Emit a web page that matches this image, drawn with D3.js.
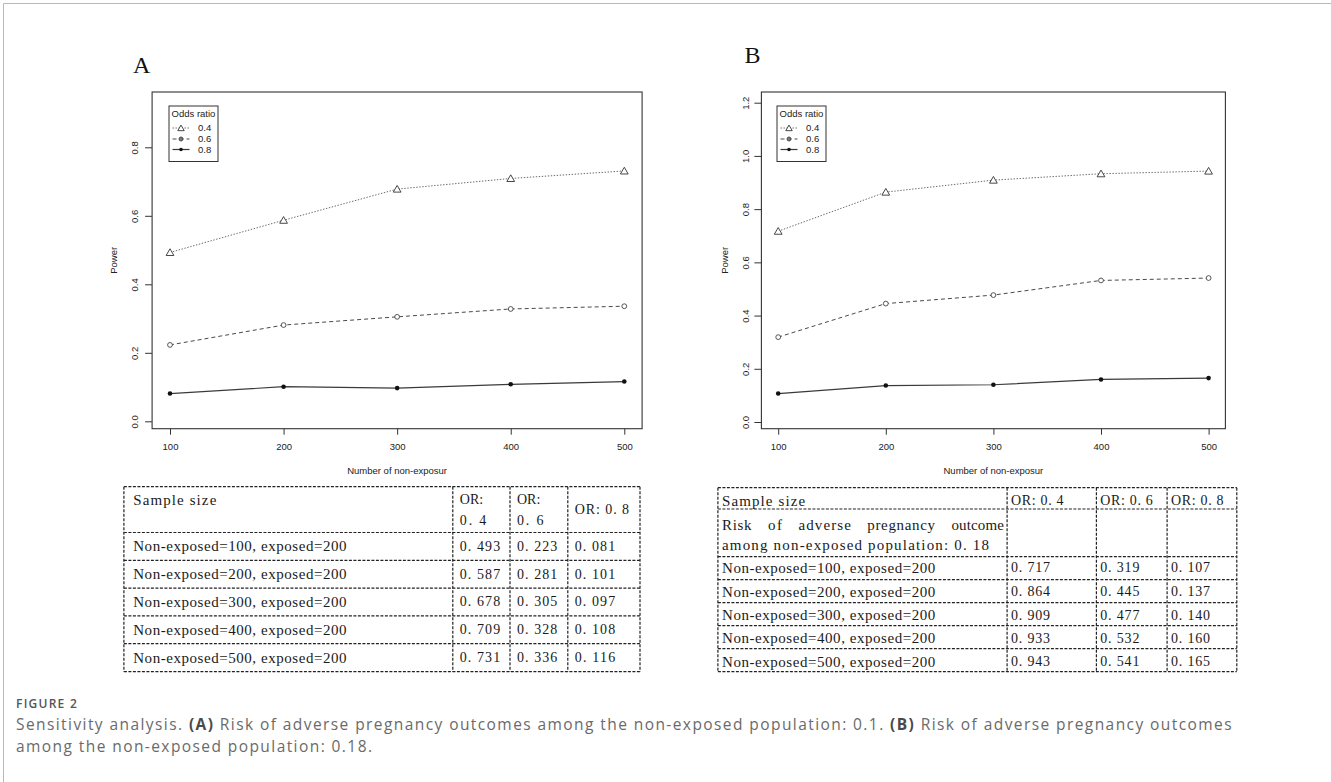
<!DOCTYPE html>
<html><head><meta charset="utf-8">
<script src="https://cdn.jsdelivr.net/npm/d3@7"></script>
<style>html,body{margin:0;padding:0;background:#fff;}svg{display:block;}</style>
</head><body>
<svg id="c" width="1331" height="782"></svg>
<script>
// ---------------- DATA ----------------
const sampleSizes = [100, 200, 300, 400, 500];
const oddsRatios = ["0.4", "0.6", "0.8"];
const powerA_OR04 = [0.493, 0.587, 0.678, 0.709, 0.731];
const powerA_OR06 = [0.223, 0.281, 0.305, 0.328, 0.336];
const powerA_OR08 = [0.081, 0.101, 0.097, 0.108, 0.116];
const powerB_OR04 = [0.717, 0.864, 0.909, 0.933, 0.943];
const powerB_OR06 = [0.319, 0.445, 0.477, 0.532, 0.541];
const powerB_OR08 = [0.107, 0.137, 0.140, 0.160, 0.165];
const xTicks = [100, 200, 300, 400, 500];
const yTicksA = [0.0, 0.2, 0.4, 0.6, 0.8];
const yTicksB = [0.0, 0.2, 0.4, 0.6, 0.8, 1.0, 1.2];
const rowLabels = ["Non-exposed=100, exposed=200", "Non-exposed=200, exposed=200",
  "Non-exposed=300, exposed=200", "Non-exposed=400, exposed=200", "Non-exposed=500, exposed=200"];
const riskLineB = ["Risk of adverse pregnancy outcome", "among non-exposed population: 0. 18"];
const captionTitle = "FIGURE 2";
const captionLine1 = [["Sensitivity analysis. ", 0], ["(A)", 1],
  [" Risk of adverse pregnancy outcomes among the non-exposed population: 0.1. ", 0], ["(B)", 1],
  [" Risk of adverse pregnancy outcomes", 0]];
const captionLine2 = "among the non-exposed population: 0.18.";

// ---------------- STYLE / LAYOUT ----------------
const svg = d3.select("#c");
const SANS = "'Liberation Sans', Arial, sans-serif";
const TFONT = "'Liberation Serif', 'Times New Roman', serif";
const seriesStyle = [
  {stroke: "#6a6a6a", dash: "1.4,1.6", width: 1, marker: "tri"},
  {stroke: "#4a4a4a", dash: "4,3", width: 1, marker: "open"},
  {stroke: "#3a3a3a", dash: null, width: 1.2, marker: "dot"}
];
const fmt = v => d3.format(".3f")(v).replace(".", ". ");

// outer page frame
svg.append("path").attr("d", "M3.5,782 V3.5 H1331").attr("fill", "none")
  .attr("stroke", "#b8b8b8").attr("stroke-width", 1);

function marker(g, type, cx, cy, small) {
  if (type === "tri") {
    g.append("path").attr("d", d3.symbol(d3.symbolTriangle, small ? 18 : 26)())
      .attr("transform", `translate(${cx},${cy + 0.8})`)
      .attr("fill", "#fff").attr("stroke", "#333").attr("stroke-width", 0.9);
  } else if (type === "open") {
    g.append("circle").attr("cx", cx).attr("cy", cy).attr("r", small ? 2 : 2.4)
      .attr("fill", small ? "#777" : "#fff").attr("stroke", "#444").attr("stroke-width", 0.9);
  } else {
    g.append("circle").attr("cx", cx).attr("cy", cy).attr("r", small ? 1.8 : 2.3).attr("fill", "#111");
  }
}

function drawPanel(cfg) {
  const g = svg.append("g");
  const x = d3.scaleLinear().domain([100, 500]).range(cfg.xr);
  const y = d3.scaleLinear().domain([0, cfg.yTicks[cfg.yTicks.length - 1]]).range(cfg.yr);
  const [bx0, by0, bx1, by1] = cfg.box;

  g.append("text").attr("x", cfg.letterPos[0]).attr("y", cfg.letterPos[1])
    .style("font-family", "'Liberation Serif', 'Times New Roman', serif").style("font-size", "24px")
    .attr("fill", "#111").text(cfg.letter);

  const xa = g.append("g").attr("transform", `translate(0,${by1})`)
    .call(d3.axisBottom(x).tickValues(xTicks).tickSize(6).tickPadding(8.6).tickFormat(d3.format("d")));
  xa.select(".domain").remove();
  xa.selectAll("line").attr("stroke", "#333");
  xa.selectAll("text").style("font-family", SANS).style("font-size", "9.5px").attr("fill", "#222");

  const ya = g.append("g").attr("transform", `translate(${bx0},0)`)
    .call(d3.axisLeft(y).tickValues(cfg.yTicks).tickSize(7).tickFormat(d3.format(".1f")));
  ya.select(".domain").remove();
  ya.selectAll("line").attr("stroke", "#333");
  ya.selectAll("text").attr("x", null).attr("dy", null).attr("text-anchor", "middle")
    .attr("transform", `translate(${cfg.yLabOff},0) rotate(-90)`)
    .style("font-family", SANS).style("font-size", "9.5px").attr("fill", "#222");

  g.append("rect").attr("x", bx0).attr("y", by0).attr("width", bx1 - bx0).attr("height", by1 - by0)
    .attr("fill", "none").attr("stroke", "#333").attr("stroke-width", 1.1);

  g.append("text").attr("transform", `translate(${cfg.powerX},${(by0 + by1) / 2}) rotate(-90)`)
    .attr("text-anchor", "middle").style("font-family", SANS).style("font-size", "9.5px")
    .attr("fill", "#222").text("Power");
  g.append("text").attr("x", (bx0 + bx1) / 2).attr("y", 474)
    .attr("text-anchor", "middle").style("font-family", SANS).style("font-size", "9.5px")
    .attr("fill", "#222").text("Number of non-exposur");

  const line = d3.line().x((d, i) => x(sampleSizes[i])).y(d => y(d));
  cfg.series.forEach((s, k) => {
    const st = seriesStyle[k];
    g.append("path").datum(s).attr("d", line).attr("fill", "none")
      .attr("stroke", st.stroke).attr("stroke-width", st.width)
      .attr("stroke-dasharray", st.dash);
    s.forEach((v, i) => marker(g, st.marker, x(sampleSizes[i]), y(v), false));
  });

  const lg = g.append("g").attr("transform", `translate(${cfg.legPos[0]},${cfg.legPos[1]})`);
  lg.append("rect").attr("x", 0).attr("y", 0).attr("width", 49).attr("height", 55.5)
    .attr("fill", "#fff").attr("stroke", "#333").attr("stroke-width", 1);
  lg.append("text").attr("x", 24.5).attr("y", 10.8).attr("text-anchor", "middle")
    .style("font-family", SANS).style("font-size", "9.5px").attr("fill", "#222").text("Odds ratio");
  const ly = [22, 33, 43.5];
  oddsRatios.forEach((o, k) => {
    const st = seriesStyle[k];
    lg.append("line").attr("x1", 3.5).attr("x2", 20.5).attr("y1", ly[k]).attr("y2", ly[k])
      .attr("stroke", st.stroke).attr("stroke-width", st.width).attr("stroke-dasharray", st.dash);
    marker(lg, st.marker, 12, ly[k], true);
    lg.append("text").attr("x", 29).attr("y", ly[k] + 3.4)
      .style("font-family", SANS).style("font-size", "9.5px").attr("fill", "#222").text(o);
  });
}

drawPanel({letter: "A", letterPos: [133, 73], box: [152.1, 92, 642.1, 428.7],
  xr: [170, 624.3], yr: [421.3, 147.3], yTicks: yTicksA, yLabOff: -14.1, powerX: 116.5,
  legPos: [169, 106], series: [powerA_OR04, powerA_OR06, powerA_OR08]});
drawPanel({letter: "B", letterPos: [744.5, 63], box: [761.4, 92, 1225.4, 428.7],
  xr: [778.2, 1208.6], yr: [422, 102.7], yTicks: yTicksB, yLabOff: -12.3, powerX: 727.6,
  legPos: [777, 106], series: [powerB_OR04, powerB_OR06, powerB_OR08]});

// ---------------- TABLES ----------------
function tText(g, str, x, cy, size, unit) {
  const t = g.append("text").attr("x", x).attr("y", cy + size * 0.32)
    .style("font-family", TFONT).style("font-size", size + "px").attr("fill", "#1a1a1a").text(str);
  const target = str.length * unit - unit * 0.15;
  if (t.node().getComputedTextLength() < target) {
    t.attr("textLength", target).attr("lengthAdjust", "spacing");
  }
  return t;
}
function dashLine(g, x1, y1, x2, y2) {
  g.append("line").attr("x1", x1).attr("y1", y1).attr("x2", x2).attr("y2", y2)
    .attr("stroke", "#222").attr("stroke-width", 1.2).attr("stroke-dasharray", "3,1.5");
}

// Table A
(function () {
  const g = svg.append("g");
  const L = 123.9, R = 640, cols = [452.8, 510, 567.8];
  const hl = [486.7, 532.5, 560.3, 588.1, 615.9, 643.7, 671.7];
  hl.forEach(yv => dashLine(g, L, yv, R, yv));
  [L, ...cols, R].forEach(xv => dashLine(g, xv, hl[0], xv, hl[hl.length - 1]));
  const U1 = 7.66, U2 = 6.9;
  tText(g, "Sample size", 133.2, 500, 15, U1);
  const series = [powerA_OR04, powerA_OR06, powerA_OR08];
  oddsRatios.forEach((o, k) => {
    const tx = cols[k] + 7;
    if (k < 2) {
      tText(g, "OR:", tx, 500, 14, U2);
      tText(g, o.replace(".", ". "), tx, 520.7, 14, U2);
    } else {
      tText(g, "OR: " + o.replace(".", ". "), tx, 510, 14, U2);
    }
  });
  const rc = [546.6, 574.3, 602, 629.8, 657.8];
  rowLabels.forEach((lab, i) => {
    tText(g, lab, 133.2, rc[i], 15, U1);
    series.forEach((s, k) => tText(g, fmt(s[i]), cols[k] + 7, rc[i], 14, U2));
  });
})();

// Table B
(function () {
  const g = svg.append("g");
  const L = 717.9, R = 1236.8, cols = [1007.1, 1096.4, 1167.1];
  const hl = [487.7, 509, 556.7, 579.7, 602.7, 625.7, 648.7, 671.7];
  hl.forEach(yv => dashLine(g, L, yv, R, yv));
  [L, ...cols, R].forEach(xv => dashLine(g, xv, hl[0], xv, hl[hl.length - 1]));
  const U1 = 7.66, U2 = 6.7;
  const x1 = 722;
  tText(g, "Sample size", x1, 500.7, 15, U1);
  oddsRatios.forEach((o, k) => tText(g, "OR: " + o.replace(".", ". "), cols[k] + 3.8, 500.7, 14, U2));
  const words = riskLineB[0].split(" ");
  const totalChars = d3.sum(words, w => w.length);
  const avail = (cols[0] - 2) - x1;
  const gap = (avail - totalChars * U1) / (words.length - 1);
  let cx = x1;
  words.forEach(w => { tText(g, w, cx, 525, 15, U1); cx += w.length * U1 + gap; });
  tText(g, riskLineB[1], x1, 545, 15, U1);
  const series = [powerB_OR04, powerB_OR06, powerB_OR08];
  const rc = [568, 591.8, 615.2, 638.6, 662];
  rowLabels.forEach((lab, i) => {
    tText(g, lab, x1, rc[i], 15, U1);
    series.forEach((s, k) => tText(g, fmt(s[i]), cols[k] + 3.8, rc[i], 14, U2));
  });
})();

// ---------------- CAPTION ----------------
const CAP = "'Open Sans', 'Noto Sans', sans-serif";
const CX = 16;
const ft = svg.append("text").attr("x", CX).attr("y", 708)
  .style("font-family", CAP).style("font-size", "12px").style("font-weight", 600)
  .attr("fill", "#555").text(captionTitle);
ft.style("letter-spacing", ((62 - ft.node().getComputedTextLength()) / captionTitle.length) + "px");

const c1 = svg.append("text").attr("x", CX).attr("y", 729.5)
  .style("font-family", CAP).style("font-size", "15.5px").attr("fill", "#6a6a6a");
captionLine1.forEach(([t, b]) => {
  const ts = c1.append("tspan").text(t);
  if (b) ts.style("font-weight", 700).attr("fill", "#4a4a4a");
});
const n1 = captionLine1.map(d => d[0]).join("").length;
const w1 = c1.node().getComputedTextLength();
const ls = (1217 - w1) / n1;
c1.style("letter-spacing", ls + "px");
svg.append("text").attr("x", CX).attr("y", 752)
  .style("font-family", CAP).style("font-size", "15.5px").attr("fill", "#6a6a6a")
  .style("letter-spacing", ls + "px").text(captionLine2);
</script>
</body></html>
